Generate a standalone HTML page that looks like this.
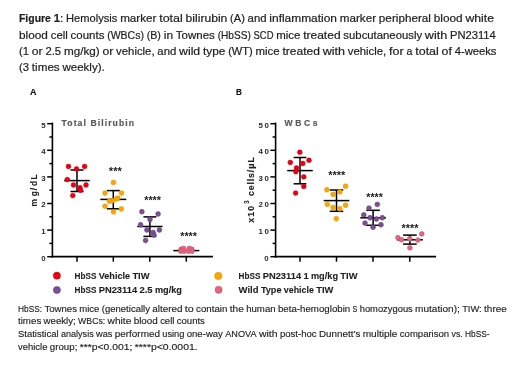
<!DOCTYPE html>
<html><head><meta charset="utf-8"><style>
html,body{margin:0;padding:0;background:#fff;width:520px;height:368px;overflow:hidden}
svg{display:block;font-family:"Liberation Sans", sans-serif;will-change:transform}
</style></head><body>
<svg width="520" height="368" viewBox="0 0 520 368">
<rect width="520" height="368" fill="#fff"/>
<text x="19.00" y="21.5" font-size="10.9" font-weight="bold" fill="#1e1e1e" stroke="#1e1e1e" stroke-width="0.2" textLength="31.88" lengthAdjust="spacingAndGlyphs">Figure</text>
<text x="53.68" y="21.5" font-size="10.9" font-weight="bold" fill="#1e1e1e" stroke="#1e1e1e" stroke-width="0.2" textLength="6.28" lengthAdjust="spacingAndGlyphs">1</text>
<text x="59.95" y="21.5" font-size="10.9" font-weight="normal" fill="#1e1e1e" stroke="#1e1e1e" stroke-width="0.2" textLength="3.31" lengthAdjust="spacingAndGlyphs">:</text>
<text x="66.07" y="21.5" font-size="10.9" font-weight="normal" fill="#1e1e1e" stroke="#1e1e1e" stroke-width="0.2" textLength="51.28" lengthAdjust="spacingAndGlyphs">Hemolysis</text>
<text x="120.15" y="21.5" font-size="10.9" font-weight="normal" fill="#1e1e1e" stroke="#1e1e1e" stroke-width="0.2" textLength="36.26" lengthAdjust="spacingAndGlyphs">marker</text>
<text x="159.21" y="21.5" font-size="10.9" font-weight="normal" fill="#1e1e1e" stroke="#1e1e1e" stroke-width="0.2" textLength="23.60" lengthAdjust="spacingAndGlyphs">total</text>
<text x="185.61" y="21.5" font-size="10.9" font-weight="normal" fill="#1e1e1e" stroke="#1e1e1e" stroke-width="0.2" textLength="41.72" lengthAdjust="spacingAndGlyphs">bilirubin</text>
<text x="230.13" y="21.5" font-size="10.9" font-weight="normal" fill="#1e1e1e" stroke="#1e1e1e" stroke-width="0.2" textLength="14.68" lengthAdjust="spacingAndGlyphs">(A)</text>
<text x="247.61" y="21.5" font-size="10.9" font-weight="normal" fill="#1e1e1e" stroke="#1e1e1e" stroke-width="0.2" textLength="18.95" lengthAdjust="spacingAndGlyphs">and</text>
<text x="269.35" y="21.5" font-size="10.9" font-weight="normal" fill="#1e1e1e" stroke="#1e1e1e" stroke-width="0.2" textLength="67.66" lengthAdjust="spacingAndGlyphs">inflammation</text>
<text x="339.81" y="21.5" font-size="10.9" font-weight="normal" fill="#1e1e1e" stroke="#1e1e1e" stroke-width="0.2" textLength="36.26" lengthAdjust="spacingAndGlyphs">marker</text>
<text x="378.87" y="21.5" font-size="10.9" font-weight="normal" fill="#1e1e1e" stroke="#1e1e1e" stroke-width="0.2" textLength="52.10" lengthAdjust="spacingAndGlyphs">peripheral</text>
<text x="433.77" y="21.5" font-size="10.9" font-weight="normal" fill="#1e1e1e" stroke="#1e1e1e" stroke-width="0.2" textLength="28.92" lengthAdjust="spacingAndGlyphs">blood</text>
<text x="465.49" y="21.5" font-size="10.9" font-weight="normal" fill="#1e1e1e" stroke="#1e1e1e" stroke-width="0.2" textLength="28.51" lengthAdjust="spacingAndGlyphs">white</text>
<text x="19.00" y="38.8" font-size="10.9" font-weight="normal" fill="#1e1e1e" stroke="#1e1e1e" stroke-width="0.2" textLength="28.92" lengthAdjust="spacingAndGlyphs">blood</text>
<text x="50.72" y="38.8" font-size="10.9" font-weight="normal" fill="#1e1e1e" stroke="#1e1e1e" stroke-width="0.2" textLength="17.08" lengthAdjust="spacingAndGlyphs">cell</text>
<text x="70.60" y="38.8" font-size="10.9" font-weight="normal" fill="#1e1e1e" stroke="#1e1e1e" stroke-width="0.2" textLength="33.78" lengthAdjust="spacingAndGlyphs">counts</text>
<text x="107.18" y="38.8" font-size="10.9" font-weight="normal" fill="#1e1e1e" stroke="#1e1e1e" stroke-width="0.2" textLength="36.72" lengthAdjust="spacingAndGlyphs">(WBCs)</text>
<text x="146.70" y="38.8" font-size="10.9" font-weight="normal" fill="#1e1e1e" stroke="#1e1e1e" stroke-width="0.2" textLength="14.25" lengthAdjust="spacingAndGlyphs">(B)</text>
<text x="163.74" y="38.8" font-size="10.9" font-weight="normal" fill="#1e1e1e" stroke="#1e1e1e" stroke-width="0.2" textLength="9.35" lengthAdjust="spacingAndGlyphs">in</text>
<text x="175.89" y="38.8" font-size="10.9" font-weight="normal" fill="#1e1e1e" stroke="#1e1e1e" stroke-width="0.2" textLength="38.93" lengthAdjust="spacingAndGlyphs">Townes</text>
<text x="217.63" y="38.8" font-size="10.9" font-weight="normal" fill="#1e1e1e" stroke="#1e1e1e" stroke-width="0.2" textLength="33.12" lengthAdjust="spacingAndGlyphs">(HbSS)</text>
<text x="253.55" y="38.8" font-size="10.9" font-weight="normal" fill="#1e1e1e" stroke="#1e1e1e" stroke-width="0.2" textLength="19.91" lengthAdjust="spacingAndGlyphs">SCD</text>
<text x="276.26" y="38.8" font-size="10.9" font-weight="normal" fill="#1e1e1e" stroke="#1e1e1e" stroke-width="0.2" textLength="24.14" lengthAdjust="spacingAndGlyphs">mice</text>
<text x="303.20" y="38.8" font-size="10.9" font-weight="normal" fill="#1e1e1e" stroke="#1e1e1e" stroke-width="0.2" textLength="37.38" lengthAdjust="spacingAndGlyphs">treated</text>
<text x="343.38" y="38.8" font-size="10.9" font-weight="normal" fill="#1e1e1e" stroke="#1e1e1e" stroke-width="0.2" textLength="78.69" lengthAdjust="spacingAndGlyphs">subcutaneously</text>
<text x="424.86" y="38.8" font-size="10.9" font-weight="normal" fill="#1e1e1e" stroke="#1e1e1e" stroke-width="0.2" textLength="22.35" lengthAdjust="spacingAndGlyphs">with</text>
<text x="450.02" y="38.8" font-size="10.9" font-weight="normal" fill="#1e1e1e" stroke="#1e1e1e" stroke-width="0.2" textLength="45.78" lengthAdjust="spacingAndGlyphs">PN23114</text>
<text x="19.00" y="55.0" font-size="10.9" font-weight="normal" fill="#1e1e1e" stroke="#1e1e1e" stroke-width="0.2" textLength="10.03" lengthAdjust="spacingAndGlyphs">(1</text>
<text x="31.83" y="55.0" font-size="10.9" font-weight="normal" fill="#1e1e1e" stroke="#1e1e1e" stroke-width="0.2" textLength="10.85" lengthAdjust="spacingAndGlyphs">or</text>
<text x="45.48" y="55.0" font-size="10.9" font-weight="normal" fill="#1e1e1e" stroke="#1e1e1e" stroke-width="0.2" textLength="15.68" lengthAdjust="spacingAndGlyphs">2.5</text>
<text x="63.96" y="55.0" font-size="10.9" font-weight="normal" fill="#1e1e1e" stroke="#1e1e1e" stroke-width="0.2" textLength="35.73" lengthAdjust="spacingAndGlyphs">mg/kg)</text>
<text x="102.49" y="55.0" font-size="10.9" font-weight="normal" fill="#1e1e1e" stroke="#1e1e1e" stroke-width="0.2" textLength="10.85" lengthAdjust="spacingAndGlyphs">or</text>
<text x="116.14" y="55.0" font-size="10.9" font-weight="normal" fill="#1e1e1e" stroke="#1e1e1e" stroke-width="0.2" textLength="38.44" lengthAdjust="spacingAndGlyphs">vehicle,</text>
<text x="157.38" y="55.0" font-size="10.9" font-weight="normal" fill="#1e1e1e" stroke="#1e1e1e" stroke-width="0.2" textLength="18.95" lengthAdjust="spacingAndGlyphs">and</text>
<text x="179.13" y="55.0" font-size="10.9" font-weight="normal" fill="#1e1e1e" stroke="#1e1e1e" stroke-width="0.2" textLength="21.05" lengthAdjust="spacingAndGlyphs">wild</text>
<text x="202.98" y="55.0" font-size="10.9" font-weight="normal" fill="#1e1e1e" stroke="#1e1e1e" stroke-width="0.2" textLength="22.42" lengthAdjust="spacingAndGlyphs">type</text>
<text x="228.20" y="55.0" font-size="10.9" font-weight="normal" fill="#1e1e1e" stroke="#1e1e1e" stroke-width="0.2" textLength="24.57" lengthAdjust="spacingAndGlyphs">(WT)</text>
<text x="255.57" y="55.0" font-size="10.9" font-weight="normal" fill="#1e1e1e" stroke="#1e1e1e" stroke-width="0.2" textLength="24.14" lengthAdjust="spacingAndGlyphs">mice</text>
<text x="282.50" y="55.0" font-size="10.9" font-weight="normal" fill="#1e1e1e" stroke="#1e1e1e" stroke-width="0.2" textLength="37.38" lengthAdjust="spacingAndGlyphs">treated</text>
<text x="322.68" y="55.0" font-size="10.9" font-weight="normal" fill="#1e1e1e" stroke="#1e1e1e" stroke-width="0.2" textLength="22.35" lengthAdjust="spacingAndGlyphs">with</text>
<text x="347.84" y="55.0" font-size="10.9" font-weight="normal" fill="#1e1e1e" stroke="#1e1e1e" stroke-width="0.2" textLength="38.44" lengthAdjust="spacingAndGlyphs">vehicle,</text>
<text x="389.07" y="55.0" font-size="10.9" font-weight="normal" fill="#1e1e1e" stroke="#1e1e1e" stroke-width="0.2" textLength="14.63" lengthAdjust="spacingAndGlyphs">for</text>
<text x="406.50" y="55.0" font-size="10.9" font-weight="normal" fill="#1e1e1e" stroke="#1e1e1e" stroke-width="0.2" textLength="5.93" lengthAdjust="spacingAndGlyphs">a</text>
<text x="415.24" y="55.0" font-size="10.9" font-weight="normal" fill="#1e1e1e" stroke="#1e1e1e" stroke-width="0.2" textLength="23.60" lengthAdjust="spacingAndGlyphs">total</text>
<text x="441.64" y="55.0" font-size="10.9" font-weight="normal" fill="#1e1e1e" stroke="#1e1e1e" stroke-width="0.2" textLength="10.31" lengthAdjust="spacingAndGlyphs">of</text>
<text x="454.75" y="55.0" font-size="10.9" font-weight="normal" fill="#1e1e1e" stroke="#1e1e1e" stroke-width="0.2" textLength="41.72" lengthAdjust="spacingAndGlyphs">4-weeks</text>
<text x="19.00" y="70.6" font-size="10.9" font-weight="normal" fill="#1e1e1e" stroke="#1e1e1e" stroke-width="0.2" textLength="10.03" lengthAdjust="spacingAndGlyphs">(3</text>
<text x="31.83" y="70.6" font-size="10.9" font-weight="normal" fill="#1e1e1e" stroke="#1e1e1e" stroke-width="0.2" textLength="27.89" lengthAdjust="spacingAndGlyphs">times</text>
<text x="62.52" y="70.6" font-size="10.9" font-weight="normal" fill="#1e1e1e" stroke="#1e1e1e" stroke-width="0.2" textLength="42.14" lengthAdjust="spacingAndGlyphs">weekly).</text>
<text x="18.00" y="311.5" font-size="9.9" font-weight="normal" fill="#1e1e1e" stroke="#1e1e1e" stroke-width="0.15" textLength="24.12" lengthAdjust="spacingAndGlyphs">HbSS:</text>
<text x="44.46" y="311.5" font-size="9.9" font-weight="normal" fill="#1e1e1e" stroke="#1e1e1e" stroke-width="0.15" textLength="32.47" lengthAdjust="spacingAndGlyphs">Townes</text>
<text x="79.26" y="311.5" font-size="9.9" font-weight="normal" fill="#1e1e1e" stroke="#1e1e1e" stroke-width="0.15" textLength="20.13" lengthAdjust="spacingAndGlyphs">mice</text>
<text x="101.73" y="311.5" font-size="9.9" font-weight="normal" fill="#1e1e1e" stroke="#1e1e1e" stroke-width="0.15" textLength="48.27" lengthAdjust="spacingAndGlyphs">(genetically</text>
<text x="152.33" y="311.5" font-size="9.9" font-weight="normal" fill="#1e1e1e" stroke="#1e1e1e" stroke-width="0.15" textLength="30.09" lengthAdjust="spacingAndGlyphs">altered</text>
<text x="184.75" y="311.5" font-size="9.9" font-weight="normal" fill="#1e1e1e" stroke="#1e1e1e" stroke-width="0.15" textLength="8.91" lengthAdjust="spacingAndGlyphs">to</text>
<text x="196.00" y="311.5" font-size="9.9" font-weight="normal" fill="#1e1e1e" stroke="#1e1e1e" stroke-width="0.15" textLength="31.45" lengthAdjust="spacingAndGlyphs">contain</text>
<text x="229.78" y="311.5" font-size="9.9" font-weight="normal" fill="#1e1e1e" stroke="#1e1e1e" stroke-width="0.15" textLength="14.03" lengthAdjust="spacingAndGlyphs">the</text>
<text x="246.14" y="311.5" font-size="9.9" font-weight="normal" fill="#1e1e1e" stroke="#1e1e1e" stroke-width="0.15" textLength="29.48" lengthAdjust="spacingAndGlyphs">human</text>
<text x="277.96" y="311.5" font-size="9.9" font-weight="normal" fill="#1e1e1e" stroke="#1e1e1e" stroke-width="0.15" textLength="72.31" lengthAdjust="spacingAndGlyphs">beta-hemoglobin</text>
<text x="352.61" y="311.5" font-size="9.9" font-weight="normal" fill="#1e1e1e" stroke="#1e1e1e" stroke-width="0.15" textLength="4.75" lengthAdjust="spacingAndGlyphs">S</text>
<text x="359.69" y="311.5" font-size="9.9" font-weight="normal" fill="#1e1e1e" stroke="#1e1e1e" stroke-width="0.15" textLength="53.11" lengthAdjust="spacingAndGlyphs">homozygous</text>
<text x="415.13" y="311.5" font-size="9.9" font-weight="normal" fill="#1e1e1e" stroke="#1e1e1e" stroke-width="0.15" textLength="44.69" lengthAdjust="spacingAndGlyphs">mutation);</text>
<text x="462.15" y="311.5" font-size="9.9" font-weight="normal" fill="#1e1e1e" stroke="#1e1e1e" stroke-width="0.15" textLength="19.59" lengthAdjust="spacingAndGlyphs">TIW:</text>
<text x="484.08" y="311.5" font-size="9.9" font-weight="normal" fill="#1e1e1e" stroke="#1e1e1e" stroke-width="0.15" textLength="22.77" lengthAdjust="spacingAndGlyphs">three</text>
<text x="18.00" y="324.1" font-size="9.9" font-weight="normal" fill="#1e1e1e" stroke="#1e1e1e" stroke-width="0.15" textLength="23.26" lengthAdjust="spacingAndGlyphs">times</text>
<text x="43.60" y="324.1" font-size="9.9" font-weight="normal" fill="#1e1e1e" stroke="#1e1e1e" stroke-width="0.15" textLength="32.17" lengthAdjust="spacingAndGlyphs">weekly;</text>
<text x="78.10" y="324.1" font-size="9.9" font-weight="normal" fill="#1e1e1e" stroke="#1e1e1e" stroke-width="0.15" textLength="27.12" lengthAdjust="spacingAndGlyphs">WBCs:</text>
<text x="107.56" y="324.1" font-size="9.9" font-weight="normal" fill="#1e1e1e" stroke="#1e1e1e" stroke-width="0.15" textLength="23.78" lengthAdjust="spacingAndGlyphs">white</text>
<text x="133.68" y="324.1" font-size="9.9" font-weight="normal" fill="#1e1e1e" stroke="#1e1e1e" stroke-width="0.15" textLength="24.12" lengthAdjust="spacingAndGlyphs">blood</text>
<text x="160.13" y="324.1" font-size="9.9" font-weight="normal" fill="#1e1e1e" stroke="#1e1e1e" stroke-width="0.15" textLength="14.25" lengthAdjust="spacingAndGlyphs">cell</text>
<text x="176.72" y="324.1" font-size="9.9" font-weight="normal" fill="#1e1e1e" stroke="#1e1e1e" stroke-width="0.15" textLength="28.17" lengthAdjust="spacingAndGlyphs">counts</text>
<text x="18.00" y="337.0" font-size="9.9" font-weight="normal" fill="#1e1e1e" stroke="#1e1e1e" stroke-width="0.15" textLength="40.54" lengthAdjust="spacingAndGlyphs">Statistical</text>
<text x="60.88" y="337.0" font-size="9.9" font-weight="normal" fill="#1e1e1e" stroke="#1e1e1e" stroke-width="0.15" textLength="32.82" lengthAdjust="spacingAndGlyphs">analysis</text>
<text x="96.03" y="337.0" font-size="9.9" font-weight="normal" fill="#1e1e1e" stroke="#1e1e1e" stroke-width="0.15" textLength="16.37" lengthAdjust="spacingAndGlyphs">was</text>
<text x="114.74" y="337.0" font-size="9.9" font-weight="normal" fill="#1e1e1e" stroke="#1e1e1e" stroke-width="0.15" textLength="45.19" lengthAdjust="spacingAndGlyphs">performed</text>
<text x="162.27" y="337.0" font-size="9.9" font-weight="normal" fill="#1e1e1e" stroke="#1e1e1e" stroke-width="0.15" textLength="22.13" lengthAdjust="spacingAndGlyphs">using</text>
<text x="186.73" y="337.0" font-size="9.9" font-weight="normal" fill="#1e1e1e" stroke="#1e1e1e" stroke-width="0.15" textLength="36.19" lengthAdjust="spacingAndGlyphs">one-way</text>
<text x="225.25" y="337.0" font-size="9.9" font-weight="normal" fill="#1e1e1e" stroke="#1e1e1e" stroke-width="0.15" textLength="31.32" lengthAdjust="spacingAndGlyphs">ANOVA</text>
<text x="258.91" y="337.0" font-size="9.9" font-weight="normal" fill="#1e1e1e" stroke="#1e1e1e" stroke-width="0.15" textLength="18.64" lengthAdjust="spacingAndGlyphs">with</text>
<text x="279.89" y="337.0" font-size="9.9" font-weight="normal" fill="#1e1e1e" stroke="#1e1e1e" stroke-width="0.15" textLength="36.78" lengthAdjust="spacingAndGlyphs">post-hoc</text>
<text x="319.00" y="337.0" font-size="9.9" font-weight="normal" fill="#1e1e1e" stroke="#1e1e1e" stroke-width="0.15" textLength="41.31" lengthAdjust="spacingAndGlyphs">Dunnett’s</text>
<text x="362.65" y="337.0" font-size="9.9" font-weight="normal" fill="#1e1e1e" stroke="#1e1e1e" stroke-width="0.15" textLength="34.82" lengthAdjust="spacingAndGlyphs">multiple</text>
<text x="399.81" y="337.0" font-size="9.9" font-weight="normal" fill="#1e1e1e" stroke="#1e1e1e" stroke-width="0.15" textLength="49.33" lengthAdjust="spacingAndGlyphs">comparison</text>
<text x="451.47" y="337.0" font-size="9.9" font-weight="normal" fill="#1e1e1e" stroke="#1e1e1e" stroke-width="0.15" textLength="11.31" lengthAdjust="spacingAndGlyphs">vs.</text>
<text x="465.12" y="337.0" font-size="9.9" font-weight="normal" fill="#1e1e1e" stroke="#1e1e1e" stroke-width="0.15" textLength="24.52" lengthAdjust="spacingAndGlyphs">HbSS-</text>
<text x="18.00" y="349.5" font-size="9.9" font-weight="normal" fill="#1e1e1e" stroke="#1e1e1e" stroke-width="0.15" textLength="29.48" lengthAdjust="spacingAndGlyphs">vehicle</text>
<text x="49.82" y="349.5" font-size="9.9" font-weight="normal" fill="#1e1e1e" stroke="#1e1e1e" stroke-width="0.15" textLength="27.53" lengthAdjust="spacingAndGlyphs">group;</text>
<text x="79.68" y="349.5" font-size="9.9" font-weight="normal" fill="#1e1e1e" stroke="#1e1e1e" stroke-width="0.15" textLength="52.68" lengthAdjust="spacingAndGlyphs">***p&lt;0.001;</text>
<text x="134.70" y="349.5" font-size="9.9" font-weight="normal" fill="#1e1e1e" stroke="#1e1e1e" stroke-width="0.15" textLength="63.00" lengthAdjust="spacingAndGlyphs">****p&lt;0.0001.</text>
<circle cx="56.9" cy="275.7" r="3.6" fill="#ee0014" stroke="#bf000f" stroke-width="0.5"/>
<circle cx="56.9" cy="290.0" r="3.6" fill="#7b4f94" stroke="#5e3d74" stroke-width="0.5"/>
<circle cx="218.3" cy="275.9" r="3.7" fill="#f9a800" stroke="#d69000" stroke-width="0.5"/>
<circle cx="218.6" cy="289.8" r="3.6" fill="#e2667f" stroke="#bd526a" stroke-width="0.5"/>
<text x="74.60" y="278.7" font-size="9.8" font-weight="bold" fill="#1e1e1e" stroke="#1e1e1e" stroke-width="0.1" textLength="21.80" lengthAdjust="spacingAndGlyphs">HbSS</text>
<text x="98.73" y="278.7" font-size="9.8" font-weight="bold" fill="#1e1e1e" stroke="#1e1e1e" stroke-width="0.1" textLength="31.34" lengthAdjust="spacingAndGlyphs">Vehicle</text>
<text x="132.40" y="278.7" font-size="9.8" font-weight="bold" fill="#1e1e1e" stroke="#1e1e1e" stroke-width="0.1" textLength="17.18" lengthAdjust="spacingAndGlyphs">TIW</text>
<text x="74.60" y="292.9" font-size="9.8" font-weight="bold" fill="#1e1e1e" stroke="#1e1e1e" stroke-width="0.1" textLength="21.80" lengthAdjust="spacingAndGlyphs">HbSS</text>
<text x="98.73" y="292.9" font-size="9.8" font-weight="bold" fill="#1e1e1e" stroke="#1e1e1e" stroke-width="0.1" textLength="38.36" lengthAdjust="spacingAndGlyphs">PN23114</text>
<text x="139.41" y="292.9" font-size="9.8" font-weight="bold" fill="#1e1e1e" stroke="#1e1e1e" stroke-width="0.1" textLength="13.19" lengthAdjust="spacingAndGlyphs">2.5</text>
<text x="154.93" y="292.9" font-size="9.8" font-weight="bold" fill="#1e1e1e" stroke="#1e1e1e" stroke-width="0.1" textLength="27.06" lengthAdjust="spacingAndGlyphs">mg/kg</text>
<text x="238.60" y="278.7" font-size="9.8" font-weight="bold" fill="#1e1e1e" stroke="#1e1e1e" stroke-width="0.1" textLength="21.80" lengthAdjust="spacingAndGlyphs">HbSS</text>
<text x="262.73" y="278.7" font-size="9.8" font-weight="bold" fill="#1e1e1e" stroke="#1e1e1e" stroke-width="0.1" textLength="38.36" lengthAdjust="spacingAndGlyphs">PN23114</text>
<text x="303.41" y="278.7" font-size="9.8" font-weight="bold" fill="#1e1e1e" stroke="#1e1e1e" stroke-width="0.1" textLength="5.22" lengthAdjust="spacingAndGlyphs">1</text>
<text x="310.96" y="278.7" font-size="9.8" font-weight="bold" fill="#1e1e1e" stroke="#1e1e1e" stroke-width="0.1" textLength="27.06" lengthAdjust="spacingAndGlyphs">mg/kg</text>
<text x="340.35" y="278.7" font-size="9.8" font-weight="bold" fill="#1e1e1e" stroke="#1e1e1e" stroke-width="0.1" textLength="17.18" lengthAdjust="spacingAndGlyphs">TIW</text>
<text x="238.60" y="293.1" font-size="9.8" font-weight="bold" fill="#1e1e1e" stroke="#1e1e1e" stroke-width="0.1" textLength="19.96" lengthAdjust="spacingAndGlyphs">Wild</text>
<text x="260.89" y="293.1" font-size="9.8" font-weight="bold" fill="#1e1e1e" stroke="#1e1e1e" stroke-width="0.1" textLength="20.62" lengthAdjust="spacingAndGlyphs">Type</text>
<text x="283.83" y="293.1" font-size="9.8" font-weight="bold" fill="#1e1e1e" stroke="#1e1e1e" stroke-width="0.1" textLength="30.11" lengthAdjust="spacingAndGlyphs">vehicle</text>
<text x="316.27" y="293.1" font-size="9.8" font-weight="bold" fill="#1e1e1e" stroke="#1e1e1e" stroke-width="0.1" textLength="17.18" lengthAdjust="spacingAndGlyphs">TIW</text>
<text x="30" y="95.3" font-size="9.9" font-weight="bold" fill="#111" stroke="#111" stroke-width="0.15" textLength="6.5" lengthAdjust="spacingAndGlyphs">A</text>
<line x1="52.4" y1="122.6" x2="52.4" y2="257.5" stroke="#000" stroke-width="1.6"/>
<line x1="51.6" y1="256.7" x2="212.9" y2="256.7" stroke="#000" stroke-width="1.7"/>
<line x1="47.199999999999996" y1="256.7" x2="52.4" y2="256.7" stroke="#000" stroke-width="1.5"/>
<line x1="49.4" y1="243.39999999999998" x2="52.4" y2="243.39999999999998" stroke="#000" stroke-width="1.5"/>
<line x1="47.199999999999996" y1="230.1" x2="52.4" y2="230.1" stroke="#000" stroke-width="1.5"/>
<line x1="49.4" y1="216.79999999999998" x2="52.4" y2="216.79999999999998" stroke="#000" stroke-width="1.5"/>
<line x1="47.199999999999996" y1="203.5" x2="52.4" y2="203.5" stroke="#000" stroke-width="1.5"/>
<line x1="49.4" y1="190.2" x2="52.4" y2="190.2" stroke="#000" stroke-width="1.5"/>
<line x1="47.199999999999996" y1="176.89999999999998" x2="52.4" y2="176.89999999999998" stroke="#000" stroke-width="1.5"/>
<line x1="49.4" y1="163.59999999999997" x2="52.4" y2="163.59999999999997" stroke="#000" stroke-width="1.5"/>
<line x1="47.199999999999996" y1="150.29999999999998" x2="52.4" y2="150.29999999999998" stroke="#000" stroke-width="1.5"/>
<line x1="49.4" y1="136.99999999999997" x2="52.4" y2="136.99999999999997" stroke="#000" stroke-width="1.5"/>
<line x1="47.199999999999996" y1="123.69999999999999" x2="52.4" y2="123.69999999999999" stroke="#000" stroke-width="1.5"/>
<line x1="77" y1="256.7" x2="77" y2="261.7" stroke="#000" stroke-width="1.5"/>
<line x1="113.3" y1="256.7" x2="113.3" y2="261.7" stroke="#000" stroke-width="1.5"/>
<line x1="149.8" y1="256.7" x2="149.8" y2="261.7" stroke="#000" stroke-width="1.5"/>
<line x1="186.3" y1="256.7" x2="186.3" y2="261.7" stroke="#000" stroke-width="1.5"/>
<text x="45.6" y="260.59999999999997" font-size="7.9" font-weight="bold" fill="#2a2a2a" text-anchor="end">0</text>
<text x="45.6" y="234.0" font-size="7.9" font-weight="bold" fill="#2a2a2a" text-anchor="end">1</text>
<text x="45.6" y="207.4" font-size="7.9" font-weight="bold" fill="#2a2a2a" text-anchor="end">2</text>
<text x="45.6" y="180.79999999999998" font-size="7.9" font-weight="bold" fill="#2a2a2a" text-anchor="end">3</text>
<text x="45.6" y="154.2" font-size="7.9" font-weight="bold" fill="#2a2a2a" text-anchor="end">4</text>
<text x="45.6" y="127.6" font-size="7.9" font-weight="bold" fill="#2a2a2a" text-anchor="end">5</text>
<text x="61.6" y="126" font-size="8.6" font-weight="bold" fill="#5a5a5a" stroke="#5a5a5a" stroke-width="0.2" textLength="72.4" lengthAdjust="spacing">Total Bilirubin</text>
<line x1="64.25" y1="180.6" x2="89.75" y2="180.6" stroke="#000" stroke-width="1.5"/>
<line x1="70.5" y1="170" x2="83.5" y2="170" stroke="#000" stroke-width="1.5"/>
<line x1="70.5" y1="191.5" x2="83.5" y2="191.5" stroke="#000" stroke-width="1.5"/>
<line x1="77" y1="170" x2="77" y2="191.5" stroke="#000" stroke-width="1.5"/>
<circle cx="68.5" cy="166.5" r="2.45" fill="#ee0014" stroke="#bf000f" stroke-width="0.5"/>
<circle cx="84.6" cy="166.5" r="2.45" fill="#ee0014" stroke="#bf000f" stroke-width="0.5"/>
<circle cx="76.5" cy="169" r="2.45" fill="#ee0014" stroke="#bf000f" stroke-width="0.5"/>
<circle cx="67.3" cy="179.6" r="2.45" fill="#ee0014" stroke="#bf000f" stroke-width="0.5"/>
<circle cx="73.5" cy="185" r="2.45" fill="#ee0014" stroke="#bf000f" stroke-width="0.5"/>
<circle cx="86" cy="185" r="2.45" fill="#ee0014" stroke="#bf000f" stroke-width="0.5"/>
<circle cx="80" cy="187.8" r="2.45" fill="#ee0014" stroke="#bf000f" stroke-width="0.5"/>
<circle cx="80.6" cy="190.3" r="2.45" fill="#ee0014" stroke="#bf000f" stroke-width="0.5"/>
<circle cx="72.8" cy="195.6" r="2.45" fill="#ee0014" stroke="#bf000f" stroke-width="0.5"/>
<line x1="100.3" y1="199.4" x2="126.3" y2="199.4" stroke="#000" stroke-width="1.5"/>
<line x1="106.8" y1="190.6" x2="119.8" y2="190.6" stroke="#000" stroke-width="1.5"/>
<line x1="106.8" y1="208.8" x2="119.8" y2="208.8" stroke="#000" stroke-width="1.5"/>
<line x1="113.3" y1="190.6" x2="113.3" y2="208.8" stroke="#000" stroke-width="1.5"/>
<circle cx="113.5" cy="182.5" r="2.45" fill="#f9a800" stroke="#d69000" stroke-width="0.5"/>
<circle cx="105" cy="193.1" r="2.45" fill="#f9a800" stroke="#d69000" stroke-width="0.5"/>
<circle cx="121.5" cy="193.1" r="2.45" fill="#f9a800" stroke="#d69000" stroke-width="0.5"/>
<circle cx="117.8" cy="198.1" r="2.45" fill="#f9a800" stroke="#d69000" stroke-width="0.5"/>
<circle cx="116.9" cy="198.8" r="2.45" fill="#f9a800" stroke="#d69000" stroke-width="0.5"/>
<circle cx="109.4" cy="201.3" r="2.45" fill="#f9a800" stroke="#d69000" stroke-width="0.5"/>
<circle cx="113.1" cy="200.6" r="2.45" fill="#f9a800" stroke="#d69000" stroke-width="0.5"/>
<circle cx="105" cy="206.3" r="2.45" fill="#f9a800" stroke="#d69000" stroke-width="0.5"/>
<circle cx="121.3" cy="209" r="2.45" fill="#f9a800" stroke="#d69000" stroke-width="0.5"/>
<circle cx="113.5" cy="211.9" r="2.45" fill="#f9a800" stroke="#d69000" stroke-width="0.5"/>
<line x1="137.25" y1="226.5" x2="162.55" y2="226.5" stroke="#000" stroke-width="1.5"/>
<line x1="143.4" y1="216.9" x2="156.4" y2="216.9" stroke="#000" stroke-width="1.5"/>
<line x1="143.4" y1="236.4" x2="156.4" y2="236.4" stroke="#000" stroke-width="1.5"/>
<line x1="149.9" y1="216.9" x2="149.9" y2="236.4" stroke="#000" stroke-width="1.5"/>
<circle cx="141.9" cy="211.7" r="2.45" fill="#7b4f94" stroke="#5e3d74" stroke-width="0.5"/>
<circle cx="158.1" cy="214" r="2.45" fill="#7b4f94" stroke="#5e3d74" stroke-width="0.5"/>
<circle cx="150" cy="219.4" r="2.45" fill="#7b4f94" stroke="#5e3d74" stroke-width="0.5"/>
<circle cx="140.6" cy="224.8" r="2.45" fill="#7b4f94" stroke="#5e3d74" stroke-width="0.5"/>
<circle cx="146.9" cy="230" r="2.45" fill="#7b4f94" stroke="#5e3d74" stroke-width="0.5"/>
<circle cx="159.4" cy="230" r="2.45" fill="#7b4f94" stroke="#5e3d74" stroke-width="0.5"/>
<circle cx="153.1" cy="232.4" r="2.45" fill="#7b4f94" stroke="#5e3d74" stroke-width="0.5"/>
<circle cx="154" cy="235.1" r="2.45" fill="#7b4f94" stroke="#5e3d74" stroke-width="0.5"/>
<circle cx="145.6" cy="240.5" r="2.45" fill="#7b4f94" stroke="#5e3d74" stroke-width="0.5"/>
<line x1="173.3" y1="250.6" x2="199.3" y2="250.6" stroke="#000" stroke-width="1.5"/>
<line x1="186.3" y1="250.6" x2="186.3" y2="250.6" stroke="#000" stroke-width="1.5"/>
<line x1="186.3" y1="250.6" x2="186.3" y2="250.6" stroke="#000" stroke-width="1.5"/>
<line x1="186.3" y1="250.6" x2="186.3" y2="250.6" stroke="#000" stroke-width="1.5"/>
<circle cx="181" cy="249.3" r="2.45" fill="#e2667f" stroke="#bd526a" stroke-width="0.5"/>
<circle cx="183.6" cy="248.4" r="2.45" fill="#e2667f" stroke="#bd526a" stroke-width="0.5"/>
<circle cx="180.8" cy="251.2" r="2.45" fill="#e2667f" stroke="#bd526a" stroke-width="0.5"/>
<circle cx="184.2" cy="251.3" r="2.45" fill="#e2667f" stroke="#bd526a" stroke-width="0.5"/>
<circle cx="189.3" cy="248.4" r="2.45" fill="#e2667f" stroke="#bd526a" stroke-width="0.5"/>
<circle cx="191.8" cy="249.2" r="2.45" fill="#e2667f" stroke="#bd526a" stroke-width="0.5"/>
<circle cx="188.6" cy="251.3" r="2.45" fill="#e2667f" stroke="#bd526a" stroke-width="0.5"/>
<circle cx="192.1" cy="251.2" r="2.45" fill="#e2667f" stroke="#bd526a" stroke-width="0.5"/>
<text x="108.8" y="175.3" font-size="10" font-weight="bold" fill="#1a1a1a" textLength="13.0" lengthAdjust="spacingAndGlyphs">***</text>
<text x="144.2" y="203.7" font-size="10" font-weight="bold" fill="#1a1a1a" textLength="16.8" lengthAdjust="spacingAndGlyphs">****</text>
<text x="180.2" y="240.4" font-size="10" font-weight="bold" fill="#1a1a1a" textLength="16.8" lengthAdjust="spacingAndGlyphs">****</text>
<text x="236" y="95.3" font-size="9.9" font-weight="bold" fill="#111" stroke="#111" stroke-width="0.15" textLength="5.9" lengthAdjust="spacingAndGlyphs">B</text>
<line x1="275.6" y1="122.6" x2="275.6" y2="257.5" stroke="#000" stroke-width="1.6"/>
<line x1="274.8" y1="256.7" x2="436.1" y2="256.7" stroke="#000" stroke-width="1.7"/>
<line x1="270.40000000000003" y1="256.7" x2="275.6" y2="256.7" stroke="#000" stroke-width="1.5"/>
<line x1="272.6" y1="243.39999999999998" x2="275.6" y2="243.39999999999998" stroke="#000" stroke-width="1.5"/>
<line x1="270.40000000000003" y1="230.1" x2="275.6" y2="230.1" stroke="#000" stroke-width="1.5"/>
<line x1="272.6" y1="216.79999999999998" x2="275.6" y2="216.79999999999998" stroke="#000" stroke-width="1.5"/>
<line x1="270.40000000000003" y1="203.5" x2="275.6" y2="203.5" stroke="#000" stroke-width="1.5"/>
<line x1="272.6" y1="190.2" x2="275.6" y2="190.2" stroke="#000" stroke-width="1.5"/>
<line x1="270.40000000000003" y1="176.89999999999998" x2="275.6" y2="176.89999999999998" stroke="#000" stroke-width="1.5"/>
<line x1="272.6" y1="163.59999999999997" x2="275.6" y2="163.59999999999997" stroke="#000" stroke-width="1.5"/>
<line x1="270.40000000000003" y1="150.29999999999998" x2="275.6" y2="150.29999999999998" stroke="#000" stroke-width="1.5"/>
<line x1="272.6" y1="136.99999999999997" x2="275.6" y2="136.99999999999997" stroke="#000" stroke-width="1.5"/>
<line x1="270.40000000000003" y1="123.69999999999999" x2="275.6" y2="123.69999999999999" stroke="#000" stroke-width="1.5"/>
<line x1="300" y1="256.7" x2="300" y2="261.7" stroke="#000" stroke-width="1.5"/>
<line x1="336.5" y1="256.7" x2="336.5" y2="261.7" stroke="#000" stroke-width="1.5"/>
<line x1="373" y1="256.7" x2="373" y2="261.7" stroke="#000" stroke-width="1.5"/>
<line x1="409.8" y1="256.7" x2="409.8" y2="261.7" stroke="#000" stroke-width="1.5"/>
<text x="268.6" y="260.59999999999997" font-size="7.9" font-weight="bold" fill="#2a2a2a" text-anchor="end">0</text>
<text x="258.40000000000003" y="234.0" font-size="7.9" font-weight="bold" fill="#2a2a2a">1</text>
<text x="264.40000000000003" y="234.0" font-size="7.9" font-weight="bold" fill="#2a2a2a">0</text>
<text x="258.40000000000003" y="207.4" font-size="7.9" font-weight="bold" fill="#2a2a2a">2</text>
<text x="264.40000000000003" y="207.4" font-size="7.9" font-weight="bold" fill="#2a2a2a">0</text>
<text x="258.40000000000003" y="180.79999999999998" font-size="7.9" font-weight="bold" fill="#2a2a2a">3</text>
<text x="264.40000000000003" y="180.79999999999998" font-size="7.9" font-weight="bold" fill="#2a2a2a">0</text>
<text x="258.40000000000003" y="154.2" font-size="7.9" font-weight="bold" fill="#2a2a2a">4</text>
<text x="264.40000000000003" y="154.2" font-size="7.9" font-weight="bold" fill="#2a2a2a">0</text>
<text x="258.40000000000003" y="127.6" font-size="7.9" font-weight="bold" fill="#2a2a2a">5</text>
<text x="264.40000000000003" y="127.6" font-size="7.9" font-weight="bold" fill="#2a2a2a">0</text>
<text x="284.4" y="126" font-size="8.6" font-weight="bold" fill="#5a5a5a" stroke="#5a5a5a" stroke-width="0.2" textLength="33.2" lengthAdjust="spacing">WBCs</text>
<line x1="287.2" y1="170.6" x2="312.8" y2="170.6" stroke="#000" stroke-width="1.5"/>
<line x1="293.6" y1="157.5" x2="306.4" y2="157.5" stroke="#000" stroke-width="1.5"/>
<line x1="293.6" y1="183.8" x2="306.4" y2="183.8" stroke="#000" stroke-width="1.5"/>
<line x1="300" y1="157.5" x2="300" y2="183.8" stroke="#000" stroke-width="1.5"/>
<circle cx="299.8" cy="152.3" r="2.45" fill="#ee0014" stroke="#bf000f" stroke-width="0.5"/>
<circle cx="309" cy="160.3" r="2.45" fill="#ee0014" stroke="#bf000f" stroke-width="0.5"/>
<circle cx="290.3" cy="162.5" r="2.45" fill="#ee0014" stroke="#bf000f" stroke-width="0.5"/>
<circle cx="302.8" cy="163.5" r="2.45" fill="#ee0014" stroke="#bf000f" stroke-width="0.5"/>
<circle cx="296.5" cy="168" r="2.45" fill="#ee0014" stroke="#bf000f" stroke-width="0.5"/>
<circle cx="295.8" cy="171.7" r="2.45" fill="#ee0014" stroke="#bf000f" stroke-width="0.5"/>
<circle cx="303.8" cy="176.9" r="2.45" fill="#ee0014" stroke="#bf000f" stroke-width="0.5"/>
<circle cx="303.8" cy="186.5" r="2.45" fill="#ee0014" stroke="#bf000f" stroke-width="0.5"/>
<circle cx="295.6" cy="193.1" r="2.45" fill="#ee0014" stroke="#bf000f" stroke-width="0.5"/>
<line x1="323.7" y1="200.6" x2="349.3" y2="200.6" stroke="#000" stroke-width="1.5"/>
<line x1="329.75" y1="190" x2="343.25" y2="190" stroke="#000" stroke-width="1.5"/>
<line x1="329.75" y1="211.3" x2="343.25" y2="211.3" stroke="#000" stroke-width="1.5"/>
<line x1="336.5" y1="190" x2="336.5" y2="211.3" stroke="#000" stroke-width="1.5"/>
<circle cx="345.6" cy="186.3" r="2.45" fill="#f9a800" stroke="#d69000" stroke-width="0.5"/>
<circle cx="326.9" cy="189.8" r="2.45" fill="#f9a800" stroke="#d69000" stroke-width="0.5"/>
<circle cx="339.8" cy="191.9" r="2.45" fill="#f9a800" stroke="#d69000" stroke-width="0.5"/>
<circle cx="333.1" cy="194.4" r="2.45" fill="#f9a800" stroke="#d69000" stroke-width="0.5"/>
<circle cx="327.3" cy="204.4" r="2.45" fill="#f9a800" stroke="#d69000" stroke-width="0.5"/>
<circle cx="345.6" cy="205.3" r="2.45" fill="#f9a800" stroke="#d69000" stroke-width="0.5"/>
<circle cx="333.1" cy="207.5" r="2.45" fill="#f9a800" stroke="#d69000" stroke-width="0.5"/>
<circle cx="339.8" cy="208.8" r="2.45" fill="#f9a800" stroke="#d69000" stroke-width="0.5"/>
<circle cx="336.3" cy="218.8" r="2.45" fill="#f9a800" stroke="#d69000" stroke-width="0.5"/>
<line x1="360.25" y1="217.8" x2="385.95000000000005" y2="217.8" stroke="#000" stroke-width="1.5"/>
<line x1="366.35" y1="210.3" x2="379.85" y2="210.3" stroke="#000" stroke-width="1.5"/>
<line x1="366.35" y1="225.3" x2="379.85" y2="225.3" stroke="#000" stroke-width="1.5"/>
<line x1="373.1" y1="210.3" x2="373.1" y2="225.3" stroke="#000" stroke-width="1.5"/>
<circle cx="377.3" cy="204.4" r="2.45" fill="#7b4f94" stroke="#5e3d74" stroke-width="0.5"/>
<circle cx="369" cy="208.1" r="2.45" fill="#7b4f94" stroke="#5e3d74" stroke-width="0.5"/>
<circle cx="363.8" cy="214.9" r="2.45" fill="#7b4f94" stroke="#5e3d74" stroke-width="0.5"/>
<circle cx="370" cy="217.8" r="2.45" fill="#7b4f94" stroke="#5e3d74" stroke-width="0.5"/>
<circle cx="376.5" cy="219" r="2.45" fill="#7b4f94" stroke="#5e3d74" stroke-width="0.5"/>
<circle cx="382.3" cy="217.8" r="2.45" fill="#7b4f94" stroke="#5e3d74" stroke-width="0.5"/>
<circle cx="365" cy="223.1" r="2.45" fill="#7b4f94" stroke="#5e3d74" stroke-width="0.5"/>
<circle cx="381" cy="224.8" r="2.45" fill="#7b4f94" stroke="#5e3d74" stroke-width="0.5"/>
<circle cx="373.1" cy="227.3" r="2.45" fill="#7b4f94" stroke="#5e3d74" stroke-width="0.5"/>
<line x1="396.9" y1="239.8" x2="422.9" y2="239.8" stroke="#000" stroke-width="1.5"/>
<line x1="403.09999999999997" y1="235.1" x2="416.7" y2="235.1" stroke="#000" stroke-width="1.5"/>
<line x1="403.09999999999997" y1="244.1" x2="416.7" y2="244.1" stroke="#000" stroke-width="1.5"/>
<line x1="409.9" y1="235.1" x2="409.9" y2="244.1" stroke="#000" stroke-width="1.5"/>
<circle cx="421.8" cy="233.9" r="2.45" fill="#e2667f" stroke="#bd526a" stroke-width="0.5"/>
<circle cx="397.9" cy="237.8" r="2.45" fill="#e2667f" stroke="#bd526a" stroke-width="0.5"/>
<circle cx="401.5" cy="239.8" r="2.45" fill="#e2667f" stroke="#bd526a" stroke-width="0.5"/>
<circle cx="409.7" cy="238.8" r="2.45" fill="#e2667f" stroke="#bd526a" stroke-width="0.5"/>
<circle cx="417.8" cy="240.1" r="2.45" fill="#e2667f" stroke="#bd526a" stroke-width="0.5"/>
<circle cx="409.9" cy="247.9" r="2.45" fill="#e2667f" stroke="#bd526a" stroke-width="0.5"/>
<text x="328.2" y="178.7" font-size="10" font-weight="bold" fill="#1a1a1a" textLength="17.0" lengthAdjust="spacingAndGlyphs">****</text>
<text x="366.3" y="200.9" font-size="10" font-weight="bold" fill="#1a1a1a" textLength="16.6" lengthAdjust="spacingAndGlyphs">****</text>
<text x="401.6" y="231.9" font-size="10" font-weight="bold" fill="#1a1a1a" textLength="17.0" lengthAdjust="spacingAndGlyphs">****</text>
<text transform="translate(37.0,206.5) rotate(-90)" font-size="8.4" font-weight="bold" fill="#222" stroke="#222" stroke-width="0.1">m</text>
<text transform="translate(37.0,196.2) rotate(-90)" font-size="8.4" font-weight="bold" fill="#222" stroke="#222" stroke-width="0.1">g</text>
<text transform="translate(37.0,190.2) rotate(-90)" font-size="8.4" font-weight="bold" fill="#222" stroke="#222" stroke-width="0.1">/</text>
<text transform="translate(37.0,185.9) rotate(-90)" font-size="8.4" font-weight="bold" fill="#222" stroke="#222" stroke-width="0.1">d</text>
<text transform="translate(37.0,179.6) rotate(-90)" font-size="8.4" font-weight="bold" fill="#222" stroke="#222" stroke-width="0.1">L</text>
<text transform="translate(253.7,222.7) rotate(-90)" font-size="8.8" font-weight="bold" fill="#222" stroke="#222" stroke-width="0.15" textLength="16.8" lengthAdjust="spacing">x10</text>
<text transform="translate(248.5,203.9) rotate(-90)" font-size="6.6" font-weight="bold" fill="#222">3</text>
<text transform="translate(253.7,196.1) rotate(-90)" font-size="8.8" font-weight="bold" fill="#222" stroke="#222" stroke-width="0.15" textLength="38.9" lengthAdjust="spacing">cells/μL</text>
</svg>
</body></html>
